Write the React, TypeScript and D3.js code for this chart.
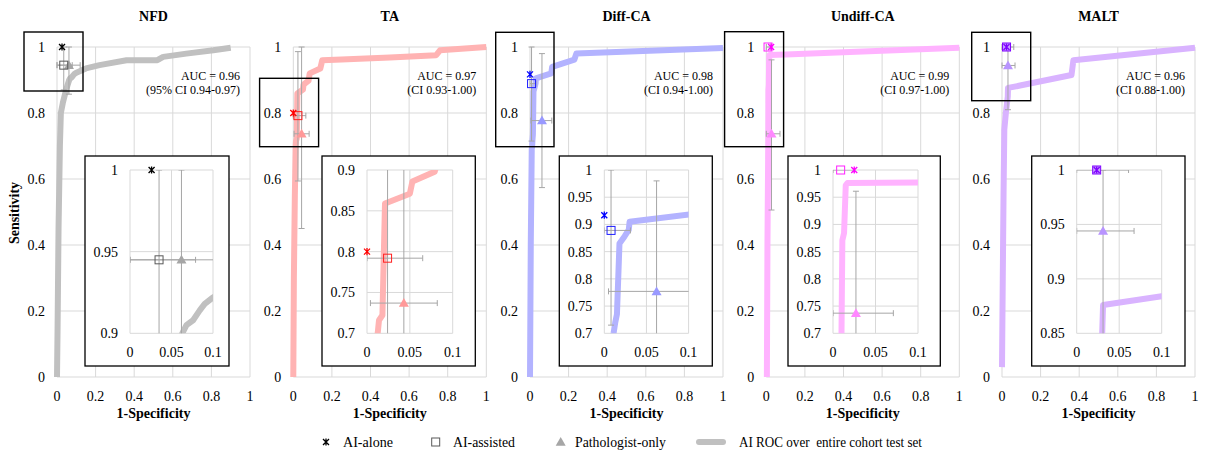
import React from "react";
import * as d3 from "d3";

// ---------- DATA ----------
const categories = ["NFD", "TA", "Diff-CA", "Undiff-CA", "MALT"];
const aucLabels = ["AUC = 0.96", "AUC = 0.97", "AUC = 0.98", "AUC = 0.99", "AUC = 0.96"];
const ciLabels = ["(95% CI 0.94-0.97)", "(CI 0.93-1.00)", "(CI 0.94-1.00)", "(CI 0.97-1.00)", "(CI 0.88-1.00)"];
const legendLabels = ["AI-alone", "AI-assisted", "Pathologist-only", "AI ROC over  entire cohort test set"];

const mainTicks = [0, 0.2, 0.4, 0.6, 0.8, 1];
const insetXTicks = [0, 0.05, 0.1];
const insetXDomain: [number, number] = [0, 0.1];
const insetYDomains: [number, number][] = [[0.9, 1], [0.7, 0.9], [0.7, 1], [0.7, 1], [0.85, 1]];
const insetYTicks = [
  [0.9, 0.95, 1],
  [0.7, 0.75, 0.8, 0.85, 0.9],
  [0.7, 0.75, 0.8, 0.85, 0.9, 0.95, 1],
  [0.7, 0.75, 0.8, 0.85, 0.9, 0.95, 1],
  [0.85, 0.9, 0.95, 1],
];

// ROC curves: [1-specificity, sensitivity]
const rocNFD: [number, number][] = [
  [0, 0], [0.003, 0.15], [0.008, 0.45], [0.015, 0.7], [0.02, 0.8], [0.03, 0.83], [0.045, 0.865],
  [0.055, 0.885], [0.063, 0.9], [0.068, 0.905], [0.076, 0.908], [0.084, 0.914], [0.09, 0.918],
  [0.1, 0.922], [0.15, 0.935], [0.22, 0.945], [0.36, 0.96], [0.52, 0.96], [0.55, 0.97],
  [0.67, 0.98], [0.81, 0.99], [0.9, 0.998],
];
const rocTA: [number, number][] = [
  [0, 0], [0.003, 0.3], [0.008, 0.55], [0.0125, 0.7], [0.014, 0.716], [0.018, 0.722], [0.021, 0.859],
  [0.05, 0.871], [0.053, 0.886], [0.079, 0.898], [0.085, 0.92], [0.14, 0.935], [0.15, 0.96],
  [0.25, 0.962], [0.5, 0.968], [0.74, 0.975], [0.76, 0.99], [1, 1],
];
const rocDiff: [number, number][] = [
  [0, 0], [0.004, 0.4], [0.009, 0.69], [0.011, 0.7], [0.013, 0.72], [0.015, 0.735], [0.018, 0.865],
  [0.024, 0.878], [0.029, 0.89], [0.03, 0.905], [0.11, 0.92], [0.115, 0.94], [0.23, 0.962],
  [0.24, 0.98], [1, 0.997],
];
const rocUndiff: [number, number][] = [
  [0.003, 0], [0.006, 0.4], [0.01, 0.7], [0.011, 0.871], [0.013, 0.884], [0.015, 0.972],
  [0.017, 0.976], [0.1, 0.977], [1, 0.998],
];
const rocMALT: [number, number][] = [
  [0, 0.03], [0.004, 0.3], [0.008, 0.55], [0.012, 0.75], [0.02, 0.8], [0.03, 0.85], [0.031, 0.876],
  [0.1, 0.884], [0.36, 0.915], [0.37, 0.96], [1, 0.998],
];
const rocSeries = [rocNFD, rocTA, rocDiff, rocUndiff, rocMALT];

// AI-alone: [x, y]
const aiAlone: [number, number][] = [[0.026, 1.0], [0, 0.8], [0, 0.917], [0.025, 1.0], [0.0235, 1.0]];
// AI-assisted: [x, y, xLo, xHi, yLo, yHi]
const aiAssisted: number[][] = [
  [0.035, 0.945, 0, 0.12, 0.87, 1.0],
  [0.024, 0.792, 0, 0.065, 0.594, 0.986],
  [0.008, 0.889, 0, 0.031, 0.715, 1.0],
  [0.009, 1.0, 0, 0.025, 1.0, 1.0],
  [0.0235, 1.0, 0, 0.061, 1.0, 1.0],
];
// Pathologist-only: [x, y, xLo, xHi, yLo, yHi]
const pathologist: number[][] = [
  [0.062, 0.945, 0, 0.079, 0.857, 1.0],
  [0.043, 0.737, 0.004, 0.082, 0.45, 1.0],
  [0.062, 0.777, 0.005, 0.113, 0.574, 0.98],
  [0.027, 0.737, 0, 0.071, 0.506, 0.961],
  [0.031, 0.944, 0, 0.0675, 0.81, 1.0],
];

// ---------- STYLE / LAYOUT ----------
const rocColors = ["#c0c0c0", "#ffb3b3", "#b3b3ff", "#ffb3ff", "#d9b3ff"];
const aloneColors = ["#000000", "#ff0000", "#0000ff", "#ff00ff", "#7f00ff"];
const assistStroke = ["#595959", "#ff2020", "#2020ff", "#ff20ff", "#7f00ff"];
const assistFill = ["none", "none", "none", "none", "#c9a0ff"];
const triFill = ["#a6a6a6", "#ff9999", "#9999ff", "#ff88ff", "#b894ff"];
const errColor = "#a6a6a6";
const gridColor = "#d9d9d9";
const FONT = "'Liberation Serif', 'Times New Roman', serif";

const X0 = [57, 293.3, 530, 766.3, 1002];
const PW = 193;
const YT = 47;
const YB = 377;
const insetLayout = [
  { bx: 28, bw: 144, pw: 83 },
  { bx: 28.7, bw: 153.3, pw: 85.7 },
  { bx: 29.3, bw: 153, pw: 84.3 },
  { bx: 21.7, bw: 152.3, pw: 85 },
  { bx: 29.7, bw: 153.3, pw: 85 },
];
const INSET_BOX_T = 156, INSET_BOX_B = 366, INSET_PT = 170, INSET_PB = 333.3, INSET_PL = 45;
const zoomRects = [
  { rx: -33, ry: 32, rw: 59, rh: 59 },
  { rx: -33.7, ry: 78.3, rw: 59, rh: 68.4 },
  { rx: -34.3, ry: 32.3, rw: 58.3, rh: 114.4 },
  { rx: -41.7, ry: 31.7, rw: 59, rh: 115 },
  { rx: -30.3, ry: 32.3, rw: 59, rh: 68.4 },
];
const legendLayout = [
  { mx: 326, tx: 343, tw: 50 },
  { mx: 435.7, tx: 453, tw: 62 },
  { mx: 560.7, tx: 575, tw: 91 },
  { mx: 711, tx: 739, tw: 183 },
];

const fmt = (v: number) => String(+v.toFixed(3));

function Star({ x, y, color, s = 3 }: { x: number; y: number; color: string; s?: number }) {
  return (
    <path
      d={`M${x - s},${y - s}L${x + s},${y + s}M${x - s},${y + s}L${x + s},${y - s}M${x},${y - s * 1.2}L${x},${y + s * 1.2}`}
      stroke={color}
      strokeWidth={1.3}
      fill="none"
    />
  );
}
function Square({ x, y, stroke, fill, s = 4 }: { x: number; y: number; stroke: string; fill: string; s?: number }) {
  return <rect x={x - s} y={y - s} width={2 * s} height={2 * s} stroke={stroke} fill={fill} strokeWidth={1} />;
}
function Tri({ x, y, fill, s = 5 }: { x: number; y: number; fill: string; s?: number }) {
  return <path d={`M${x},${y - s}L${x + s},${y + s * 0.75}L${x - s},${y + s * 0.75}Z`} fill={fill} />;
}

function ErrorBars({ d, sx, sy }: { d: number[]; sx: any; sy: any }) {
  const [x, y, xl, xh, yl, yh] = d;
  const c = 3;
  const parts: string[] = [];
  if (xh > xl) {
    parts.push(`M${sx(xl)},${sy(y)}L${sx(xh)},${sy(y)}`);
    parts.push(`M${sx(xl)},${sy(y) - c}L${sx(xl)},${sy(y) + c}`);
    parts.push(`M${sx(xh)},${sy(y) - c}L${sx(xh)},${sy(y) + c}`);
  }
  if (yh > yl) {
    parts.push(`M${sx(x)},${sy(yl)}L${sx(x)},${sy(yh)}`);
    parts.push(`M${sx(x) - c},${sy(yl)}L${sx(x) + c},${sy(yl)}`);
    parts.push(`M${sx(x) - c},${sy(yh)}L${sx(x) + c},${sy(yh)}`);
  }
  return <path d={parts.join("")} stroke={errColor} strokeWidth={1} fill="none" />;
}

function Bars({ i, sx, sy }: { i: number; sx: any; sy: any }) {
  return (
    <g>
      <ErrorBars d={pathologist[i]} sx={sx} sy={sy} />
      <ErrorBars d={aiAssisted[i]} sx={sx} sy={sy} />
    </g>
  );
}
function Points({ i, sx, sy }: { i: number; sx: any; sy: any }) {
  const a = aiAlone[i];
  const b = aiAssisted[i];
  const p = pathologist[i];
  return (
    <g>
      <Tri x={sx(p[0])} y={sy(p[1])} fill={triFill[i]} />
      <Square x={sx(b[0])} y={sy(b[1])} stroke={assistStroke[i]} fill={assistFill[i]} />
      <Star x={sx(a[0])} y={sy(a[1])} color={aloneColors[i]} />
    </g>
  );
}

function Panel({ i }: { i: number }) {
  const x0 = X0[i];
  const sx = d3.scaleLinear().domain([0, 1]).range([x0, x0 + PW]);
  const sy = d3.scaleLinear().domain([0, 1]).range([YB, YT]);
  const line = d3.line<[number, number]>().x((d) => sx(d[0])).y((d) => sy(d[1]));

  const L = insetLayout[i];
  const ipl = x0 + L.bx + INSET_PL;
  const isx = d3.scaleLinear().domain(insetXDomain).range([ipl, ipl + L.pw]);
  const isy = d3.scaleLinear().domain(insetYDomains[i]).range([INSET_PB, INSET_PT]);
  const iline = d3.line<[number, number]>().x((d) => isx(d[0])).y((d) => isy(d[1]));
  const clipId = `clip-inset-${i}`;
  const zr = zoomRects[i];

  return (
    <g style={{ fontFamily: FONT }}>
      <text x={x0 + PW / 2} y={21} textAnchor="middle" fontWeight="bold" fontSize={14}>
        {categories[i]}
      </text>
      {mainTicks.map((t) => (
        <line key={"gx" + t} x1={sx(t)} x2={sx(t)} y1={YT} y2={YB} stroke={gridColor} strokeWidth={1} />
      ))}
      {mainTicks.map((t) => (
        <line key={"gy" + t} x1={x0} x2={x0 + PW} y1={sy(t)} y2={sy(t)} stroke={gridColor} strokeWidth={1} />
      ))}
      {mainTicks.map((t) => (
        <text key={"tx" + t} x={sx(t)} y={401} textAnchor="middle" fontSize={14}>
          {fmt(t)}
        </text>
      ))}
      {mainTicks.map((t) => (
        <text key={"ty" + t} x={x0 - 12} y={sy(t)} dy="0.35em" textAnchor="end" fontSize={14}>
          {fmt(t)}
        </text>
      ))}
      <text x={x0 + PW / 2} y={418} textAnchor="middle" fontWeight="bold" fontSize={14}>
        1-Specificity
      </text>
      <path d={line(rocSeries[i]) || ""} stroke={rocColors[i]} strokeWidth={6} fill="none" strokeLinejoin="round" />
      <Bars i={i} sx={sx} sy={sy} />
      <Points i={i} sx={sx} sy={sy} />
      <text x={x0 + 183} y={80} textAnchor="end" fontSize={12}>
        {aucLabels[i]}
      </text>
      <text x={x0 + 183} y={94} textAnchor="end" fontSize={12}>
        {ciLabels[i]}
      </text>
      <rect x={x0 + zr.rx} y={zr.ry} width={zr.rw} height={zr.rh} fill="none" stroke="#000" strokeWidth={1.4} />
      <defs>
        <clipPath id={clipId}>
          <rect x={ipl} y={INSET_PT} width={L.pw} height={INSET_PB - INSET_PT} />
        </clipPath>
      </defs>
      <rect
        x={x0 + L.bx}
        y={INSET_BOX_T}
        width={L.bw}
        height={INSET_BOX_B - INSET_BOX_T}
        fill="#fff"
        stroke="#000"
        strokeWidth={1.3}
      />
      {insetXTicks.map((t) => (
        <line key={"igx" + t} x1={isx(t)} x2={isx(t)} y1={INSET_PT} y2={INSET_PB} stroke={gridColor} strokeWidth={1} />
      ))}
      {insetYTicks[i].map((t) => (
        <line key={"igy" + t} x1={ipl} x2={ipl + L.pw} y1={isy(t)} y2={isy(t)} stroke={gridColor} strokeWidth={1} />
      ))}
      {insetXTicks.map((t) => (
        <text key={"itx" + t} x={isx(t)} y={356.5} textAnchor="middle" fontSize={14}>
          {fmt(t)}
        </text>
      ))}
      {insetYTicks[i].map((t) => (
        <text key={"ity" + t} x={ipl - 12} y={isy(t)} dy="0.35em" textAnchor="end" fontSize={14}>
          {fmt(t)}
        </text>
      ))}
      <g clipPath={`url(#${clipId})`}>
        <path d={iline(rocSeries[i]) || ""} stroke={rocColors[i]} strokeWidth={6} fill="none" strokeLinejoin="round" />
        <Bars i={i} sx={isx} sy={isy} />
      </g>
      <Points i={i} sx={isx} sy={isy} />
    </g>
  );
}

function Legend() {
  const y = 442;
  const L = legendLayout;
  return (
    <g style={{ fontFamily: FONT }} fontSize={14}>
      <Star x={L[0].mx} y={y} color="#000" />
      <Square x={L[1].mx} y={y} stroke="#595959" fill="none" />
      <Tri x={L[2].mx} y={y} fill="#a6a6a6" />
      <line x1={L[3].mx - 12} x2={L[3].mx + 12} y1={y} y2={y} stroke="#c0c0c0" strokeWidth={6} strokeLinecap="round" />
      {legendLabels.map((t, k) => (
        <text
          key={t}
          x={L[k].tx}
          y={y}
          dy="0.35em"
          textLength={L[k].tw}
          lengthAdjust="spacingAndGlyphs"
          style={{ whiteSpace: "pre" }}
        >
          {t}
        </text>
      ))}
    </g>
  );
}

export default function App() {
  return (
    <svg
      width={1209}
      height={450}
      viewBox="0 0 1209 450"
      style={{ position: "absolute", left: 0, top: 0, background: "#fff" }}
    >
      <rect x={0} y={0} width={1209} height={450} fill="#fff" />
      {categories.map((c, i) => (
        <Panel key={c} i={i} />
      ))}
      <text
        transform="translate(19,213) rotate(-90)"
        textAnchor="middle"
        style={{ fontFamily: FONT }}
        fontWeight="bold"
        fontSize={14}
      >
        Sensitivity
      </text>
      <Legend />
    </svg>
  );
}
